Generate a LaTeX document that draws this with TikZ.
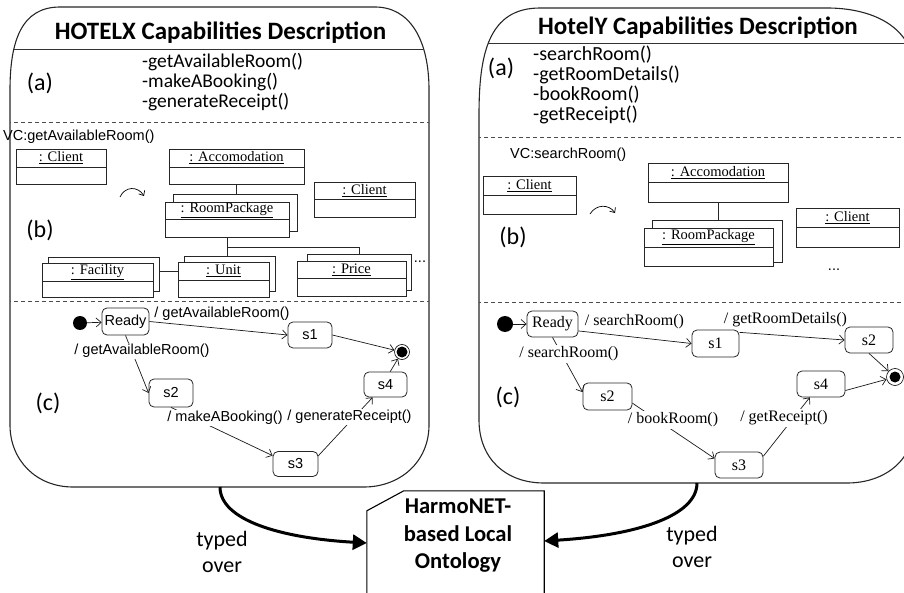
\documentclass[tikz,border=0pt]{standalone}
\usepackage{fontspec}
\setmainfont{Carlito}
\newfontfamily\arialf{Liberation Sans}
\newfontfamily\timesf{Liberation Serif}
\usetikzlibrary{arrows.meta}
\newcommand\umlbox[7]{%
  \node[objnode, minimum width={#4-#2}, minimum height={#5-#3}] (#1) at ({(#2+#4)/2},{(#3+#5)/2}) {};
  \draw[objdiv] (#2,#6) -- (#4,#6);
  \node[objlab] (#1-t) at ({(#2+#4)/2},{(#3+#6)/2}) {\underline{#7}};}
\newcommand\umlback[5]{%
  \node[objnode, minimum width={#4-#2}, minimum height={#5-#3}] (#1) at ({(#2+#4)/2},{(#3+#5)/2}) {};}
\begin{document}
\begin{tikzpicture}[x=1pt,y=-1pt,
  outline/.style={line width=1.1pt, draw=black!85},
  sep/.style={line width=0.9pt, draw=black!80},
  dashsep/.style={line width=0.9pt, draw=black!70, dash pattern=on 4pt off 3pt},
  ttl/.style={font=\bfseries\fontsize{25}{30}\selectfont, inner sep=0pt},
  sect/.style={font=\fontsize{24}{28}\selectfont, inner sep=0pt},
  meth/.style={font=\fontsize{19.5}{23}\selectfont, inner sep=0pt, anchor=west},
  vc/.style={font=\arialf\fontsize{14.5}{17}\selectfont, inner sep=0pt},
  objnode/.style={draw=black!85, line width=0.8pt, fill=white, inner sep=0pt},
  objdiv/.style={line width=0.8pt, draw=black!85},
  objlab/.style={font=\timesf\fontsize{14.5}{17}\selectfont, inner sep=0pt},
  stA/.style={draw=black!85, line width=0.8pt, rounded corners=5pt, fill=white, font=\arialf\fontsize{14.5}{17}\selectfont, inner sep=0pt},
  stB/.style={draw=black!85, line width=0.8pt, rounded corners=5pt, fill=white, font=\timesf\fontsize{16}{19}\selectfont, inner sep=0pt},
  lblA/.style={font=\arialf\fontsize{14.5}{17}\selectfont, inner sep=1.5pt},
  lblB/.style={font=\timesf\fontsize{16}{19}\selectfont, inner sep=1.5pt},
  tr/.style={line width=0.7pt, draw=black!90, -{Straight Barb[length=5pt,width=9pt]}},
  big/.style={line width=3pt, -{Triangle[length=14pt,width=15pt]}},
  inidot/.style={circle, fill=black, inner sep=0pt},
  findot/.style={circle, draw=black, line width=0.6pt, inner sep=0pt, path picture={\fill (path picture bounding box.center) circle (5.5pt);}},
  typed/.style={font=\fontsize{22}{26}\selectfont, align=center, inner sep=0pt}
]
\useasboundingbox (0,0) rectangle (904,593);
\clip (0,0) rectangle (904,593);

% ---------------- left box ----------------
\draw[outline] (60,7) -- (375,7) .. controls (410,7) and (429,40) .. (429,90) -- (429,425) .. controls (429,462) and (400,487) .. (364,487) -- (73,487) .. controls (36,487) and (10,460) .. (10,425) -- (10,90) .. controls (10,40) and (22,7) .. (60,7) -- cycle;
\begin{scope}
\clip (60,7) -- (375,7) .. controls (410,7) and (429,40) .. (429,90) -- (429,425) .. controls (429,462) and (400,487) .. (364,487) -- (73,487) .. controls (36,487) and (10,460) .. (10,425) -- (10,90) .. controls (10,40) and (22,7) .. (60,7) -- cycle;
\draw[sep] (0,49) -- (440,49);
\draw[dashsep] (0,122) -- (440,122);
\draw[dashsep] (0,301) -- (440,301);
\end{scope}
\node[ttl] (ltitle) at (220.5,33) {HOTELX Capabilities Description};
\node[sect] (la) at (40,83) {(a)};
\node[meth] (lm1) at (142,62) {-getAvailableRoom()};
\node[meth] (lm2) at (142,82) {-makeABooking()};
\node[meth] (lm3) at (142,102) {-generateReceipt()};
\node[vc, anchor=west] (lvc) at (3,137) {VC:getAvailableRoom()};
\node[sect] (lb) at (40,230) {(b)};
\node[sect] (lc) at (48,403) {(c)};

% objects (left)
\umlbox{lcl1}{16}{149}{106}{184}{167}{: Client}
\umlbox{lacc}{169}{149}{304}{184}{167}{: Accomodation}
\umlbox{lcl2}{314}{182}{415}{217}{199}{: Client}
\umlback{lrpb}{173}{194}{297}{231}
\umlbox{lrp}{165}{202}{289}{237}{219}{: RoomPackage}
\draw[objdiv] (lacc.south) -- (lacc.south |- lrpb.north);
\umlback{lfacb}{48}{257}{159}{291}
\umlbox{lfac}{42}{263}{153}{297}{281}{: Facility}
\umlback{lunitb}{184}{256}{275}{291}
\umlbox{lunit}{178}{262}{269}{297}{280}{: Unit}
\umlback{lpriceb}{307}{254}{411}{290}
\umlbox{lprice}{297}{261}{406}{296}{278}{: Price}
\draw[objdiv] (lrp.south) -- ++(0,10) coordinate (lj) -| (lpriceb.north);
\draw[objdiv] (lj) -- (lj |- lunitb.north);
\draw[objdiv] ([yshift=3pt]lfacb.east) -- ([yshift=3pt]lfacb.east -| lunit.west);
\node[vc] (ldots) at (420,262) {...};
\coordinate (larcA) at (120,197);
\coordinate (larcB) at (144,196);
\draw[line width=0.7pt, -{Straight Barb[length=4pt,width=7pt]}] (larcA) .. controls (125,186) and (138,186) .. (larcB);

% state machine (left)
\node[inidot, minimum size=14pt] (ini1) at (80,323) {};
\node[stA, minimum width=47pt, minimum height=27pt] (ready1) at (125.5,321.5) {Ready};
\node[stA, minimum width=44pt, minimum height=26pt] (s1a) at (310,335) {s1};
\node[stA, minimum width=44pt, minimum height=28pt] (s2a) at (171,393) {s2};
\node[stA, minimum width=45pt, minimum height=25pt] (s3a) at (295.5,464) {s3};
\node[stA, minimum width=43pt, minimum height=25pt] (s4a) at (385.5,384.5) {s4};
\node[findot, minimum size=15pt] (fin1) at (402,352) {};
\draw[tr] (ini1) -- (ready1);
\draw[tr] (ready1.east) -- (s1a.west);
\draw[tr] (s1a.east) -- (fin1);
\draw[tr] (ready1.south) -- (s2a.west);
\draw[tr] (s2a.south) -- (s3a.160);
\draw[tr] (s3a.20) -- (s4a.225);
\draw[tr] (s4a.70) -- (fin1);
\node[lblA] (lt1) at (222,314) {/ getAvailableRoom()};
\node[lblA, fill=white] (lt2) at (142,351) {/ getAvailableRoom()};
\node[lblA, fill=white] (lt3) at (225,418) {/ makeABooking()};
\node[lblA, fill=white] (lt4) at (349.5,417) {/ generateReceipt()};

% ---------------- right box ----------------
\draw[outline] (540,8) -- (827,8) .. controls (870,8) and (915,25) .. (915,75) -- (915,420) .. controls (915,460) and (885,483) .. (847,483) -- (544,483) .. controls (505,483) and (479,458) .. (479,420) -- (479,115) .. controls (479,55) and (488,8) .. (540,8) -- cycle;
\begin{scope}
\clip (540,8) -- (827,8) .. controls (870,8) and (915,25) .. (915,75) -- (915,420) .. controls (915,460) and (885,483) .. (847,483) -- (544,483) .. controls (505,483) and (479,458) .. (479,420) -- (479,115) .. controls (479,55) and (488,8) .. (540,8) -- cycle;
\draw[sep] (470,43) -- (920,43);
\draw[dashsep] (470,137) -- (920,137);
\draw[dashsep] (470,302) -- (920,302);
\end{scope}
\node[ttl] (rtitle) at (698,28) {HotelY Capabilities Description};
\node[sect] (ra) at (501,68) {(a)};
\node[meth, font=\fontsize{20}{23}\selectfont] (rm1) at (533,55) {-searchRoom()};
\node[meth, font=\fontsize{20}{23}\selectfont] (rm2) at (533,75) {-getRoomDetails()};
\node[meth, font=\fontsize{20}{23}\selectfont] (rm3) at (533,95) {-bookRoom()};
\node[meth, font=\fontsize{20}{23}\selectfont] (rm4) at (533,115) {-getReceipt()};
\node[vc, anchor=west] (rvc) at (510,155) {VC:searchRoom()};
\node[sect] (rb) at (513,237) {(b)};
\node[sect] (rc) at (508,397) {(c)};

\umlbox{rcl1}{483}{176}{576}{214}{195}{: Client}
\umlbox{racc}{648}{163}{788}{202}{182}{: Accomodation}
\umlback{rrpb}{652}{220}{782}{262}
\umlbox{rrp}{644}{228}{773}{266}{247}{: RoomPackage}
\umlbox{rcl2}{796}{208}{899}{247}{227}{: Client}
\draw[objdiv] (racc.south) -- (racc.south |- rrpb.north);
\node[vc] (rdots) at (834,270) {...};
\coordinate (rarcA) at (590,214);
\coordinate (rarcB) at (615,213);
\draw[line width=0.7pt, -{Straight Barb[length=4pt,width=7pt]}] (rarcA) .. controls (596,204) and (609,204) .. (rarcB);

\node[inidot, minimum size=16pt] (ini2) at (505,324) {};
\node[stB, minimum width=51pt, minimum height=26pt] (ready2) at (552.5,324) {Ready};
\node[stB, minimum width=47pt, minimum height=27pt] (s1b) at (715.5,343.5) {s1};
\node[stB, minimum width=48pt, minimum height=26pt] (s2b) at (869,340) {s2};
\node[stB, minimum width=49pt, minimum height=27pt] (s2c) at (607.5,396.5) {s2};
\node[stB, minimum width=48pt, minimum height=26pt] (s3b) at (739,465) {s3};
\node[stB, minimum width=48pt, minimum height=26pt] (s4b) at (821,384) {s4};
\node[findot, minimum size=17pt] (fin2) at (895,377) {};
\draw[tr] (ini2) -- (ready2);
\draw[tr] (ready2.345) -- (s1b.west);
\draw[tr] (s1b.25) -- (s2b.west);
\draw[tr] (s2b.south) -- (fin2);
\draw[tr] (s4b.345) -- (fin2);
\draw[tr] (ready2.south) -- (s2c.170);
\draw[tr] (s2c.345) -- (s3b.165);
\draw[tr] (s3b.20) -- (s4b.230);
\node[lblB] (rt1) at (634.5,322) {/ searchRoom()};
\node[lblB] (rt2) at (785.5,320) {/ getRoomDetails()};
\node[lblB, fill=white] (rt3) at (569,354) {/ searchRoom()};
\node[lblB, fill=white] (rt4) at (673,420) {/ bookRoom()};
\node[lblB, fill=white] (rt5) at (784,418) {/ getReceipt()};

% ---------------- ontology ----------------
\node[minimum width=177pt, minimum height=108pt, inner sep=0pt] (ont) at (455.5,545) {};
\draw[line width=1.1pt] (ont.south west) -- ([yshift=-20pt]ont.north west) -- ([xshift=37pt]ont.north west) -- (ont.north east) -- (ont.south east);
\node[font=\bfseries\fontsize{22.6}{27.5}\selectfont, align=center, inner sep=0pt] (ontt) at (458,536) {HarmoNET-\\based Local\\Ontology};
\coordinate (lstart) at (220,487);
\coordinate (rstart) at (697,483);
\draw[big] (lstart) .. controls (220,520) and (280,538) .. ([yshift=2pt]ont.west);
\draw[big] (rstart) .. controls (697,515) and (640,535) .. ([yshift=4pt]ont.east);
\node[typed] (ty1) at (222,552) {typed\\over};
\node[typed] (ty2) at (692,547) {typed\\over};
\end{tikzpicture}
\end{document}
